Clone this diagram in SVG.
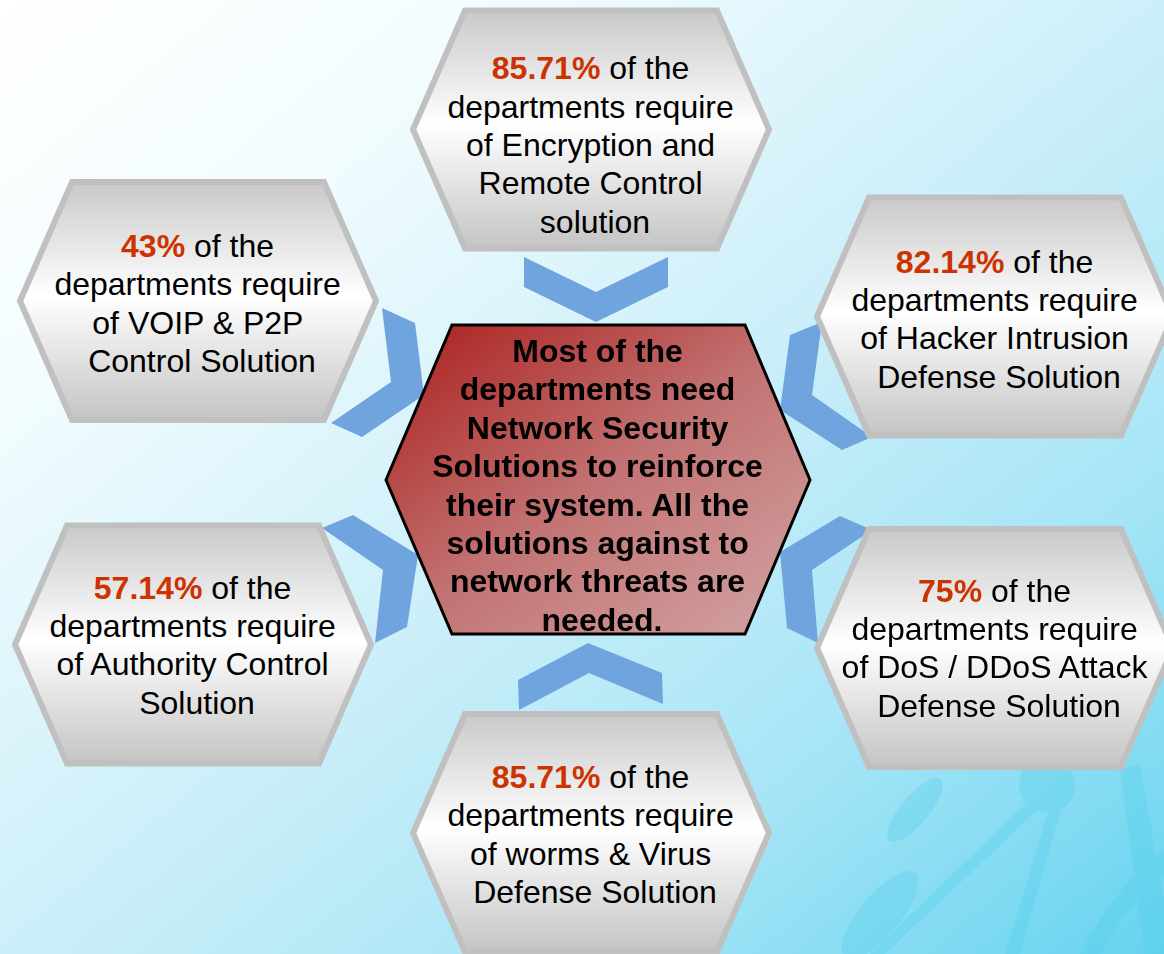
<svg xmlns="http://www.w3.org/2000/svg" width="1164" height="954" viewBox="0 0 1164 954">
  <defs>
    <linearGradient id="bg" x1="0" y1="0" x2="1" y2="1">
      <stop offset="0" stop-color="#ffffff"/>
      <stop offset="0.22" stop-color="#f2fcfe"/>
      <stop offset="0.5" stop-color="#cdeff9"/>
      <stop offset="0.75" stop-color="#a6e5f6"/>
      <stop offset="1" stop-color="#66d3ef"/>
    </linearGradient>
    <linearGradient id="hexFill" x1="0" y1="0" x2="0" y2="1">
      <stop offset="0" stop-color="#c9c9c9"/>
      <stop offset="0.48" stop-color="#ffffff"/>
      <stop offset="1" stop-color="#c4c4c4"/>
    </linearGradient>
    <linearGradient id="centerFill" x1="0" y1="0" x2="1" y2="1">
      <stop offset="0" stop-color="#aa1e1c"/>
      <stop offset="0.5" stop-color="#c27272"/>
      <stop offset="1" stop-color="#d3a5a5"/>
    </linearGradient>
    <polygon id="hex" points="-126,-119 126,-119 178,0 126,119 -126,119 -178,0"/>
    <style>
      .hex { fill: url(#hexFill); stroke: #c0c0c0; stroke-width: 6; }
      .chev { fill: #6fa4df; }
      .t { font-family: "Liberation Sans", Arial, sans-serif; font-size: 32px; fill: #000; text-anchor: middle; }
      .pct { font-weight: bold; fill: #cc3300; }
      .ct { font-family: "Liberation Sans", Arial, sans-serif; font-size: 32px; font-weight: bold; fill: #000; text-anchor: middle; }
      .deco { fill: #4fcbe9; opacity: 0.3; }
    </style>
  </defs>

  <g id="background">
    <rect x="0" y="0" width="1164" height="954" fill="url(#bg)"/>
    <g class="deco">
      <circle cx="1047" cy="785" r="28"/>
      <ellipse cx="915" cy="810" rx="40" ry="14" transform="rotate(-50 915 810)"/>
      <ellipse cx="880" cy="915" rx="55" ry="20" transform="rotate(-50 880 915)"/>
      <path d="M1040 790 L870 954 L885 954 L1048 800 Z"/>
      <path d="M1052 800 L1005 954 L1020 954 L1062 805 Z"/>
      <path d="M1120 770 L1145 954 L1164 954 L1164 900 L1140 765 Z"/>
      <path d="M1080 954 Q1120 880 1164 850 L1164 875 Q1130 900 1100 954 Z"/>
    </g>
  </g>

  <g id="connectors">
    <polygon class="chev" points="524,257 596,292 668,257 668,287 596,322 524,287"/>
    <polygon class="chev" points="382,308 415,323 424,395 362,437 331,423 391,382"/>
    <polygon class="chev" points="790,335 822,322 812,395 872,437 842,450 780,410"/>
    <polygon class="chev" points="322,528 353,515 418,555 407,627 375,643 383,570"/>
    <polygon class="chev" points="780,552 840,516 872,530 812,570 818,643 787,628"/>
    <polygon class="chev" points="518,680 588,643 662,673 663,704 589,673 519,710"/>
  </g>

  <g id="node-top" transform="translate(591,129.5)">
    <use href="#hex" class="hex"/>
    <text class="t">
      <tspan x="4" y="-50.5"><tspan class="pct">85.71%</tspan> of the</tspan>
      <tspan x="4" y="-12">departments require</tspan>
      <tspan x="4" y="26">of Encryption and</tspan>
      <tspan x="4" y="64.5">Remote Control</tspan>
      <tspan x="4" y="103">solution</tspan>
    </text>
  </g>

  <g id="node-left-top" transform="translate(198,301)">
    <use href="#hex" class="hex"/>
    <text class="t">
      <tspan x="4" y="-44"><tspan class="pct">43%</tspan> of the</tspan>
      <tspan x="4" y="-6">departments require</tspan>
      <tspan x="4" y="32.5">of VOIP &amp; P2P</tspan>
      <tspan x="4" y="71">Control Solution</tspan>
    </text>
  </g>

  <g id="node-right-top" transform="translate(995,316.5)">
    <use href="#hex" class="hex"/>
    <text class="t">
      <tspan x="4" y="-44"><tspan class="pct">82.14%</tspan> of the</tspan>
      <tspan x="4" y="-6">departments require</tspan>
      <tspan x="4" y="32.5">of Hacker Intrusion</tspan>
      <tspan x="4" y="71">Defense Solution</tspan>
    </text>
  </g>

  <g id="node-left-bottom" transform="translate(193,644.5)">
    <use href="#hex" class="hex"/>
    <text class="t">
      <tspan x="4" y="-46"><tspan class="pct">57.14%</tspan> of the</tspan>
      <tspan x="4" y="-8">departments require</tspan>
      <tspan x="4" y="30.5">of Authority Control</tspan>
      <tspan x="4" y="69">Solution</tspan>
    </text>
  </g>

  <g id="node-right-bottom" transform="translate(995,648)">
    <use href="#hex" class="hex"/>
    <text class="t">
      <tspan x="4" y="-46"><tspan class="pct">75%</tspan> of the</tspan>
      <tspan x="4" y="-8">departments require</tspan>
      <tspan x="4" y="30">of DoS / DDoS Attack</tspan>
      <tspan x="4" y="68.5">Defense Solution</tspan>
    </text>
  </g>

  <g id="node-bottom" transform="translate(591,833)">
    <use href="#hex" class="hex"/>
    <text class="t">
      <tspan x="4" y="-45"><tspan class="pct">85.71%</tspan> of the</tspan>
      <tspan x="4" y="-7">departments require</tspan>
      <tspan x="4" y="31.5">of worms &amp; Virus</tspan>
      <tspan x="4" y="70">Defense Solution</tspan>
    </text>
  </g>

  <g id="node-center">
    <polygon points="452,325 745,325 810,480 745,634 452,634 386,480" fill="url(#centerFill)" stroke="#000" stroke-width="3"/>
    <text class="ct">
      <tspan x="602" y="362">Most of the</tspan>
      <tspan x="602" y="400.4">departments need</tspan>
      <tspan x="602" y="438.8">Network Security</tspan>
      <tspan x="602" y="477.2">Solutions to reinforce</tspan>
      <tspan x="602" y="515.6">their system. All the</tspan>
      <tspan x="602" y="554">solutions against to</tspan>
      <tspan x="602" y="592.4">network threats are</tspan>
      <tspan x="602" y="630.8">needed.</tspan>
    </text>
  </g>
</svg>
